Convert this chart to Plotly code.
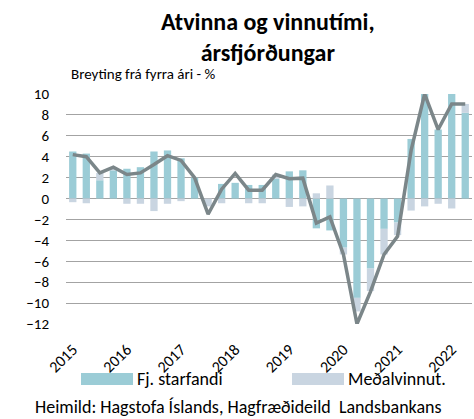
import plotly.graph_objects as go

years = ["2015", "2016", "2017", "2018", "2019", "2020", "2021", "2022"]
quarters = list(range(30))  # 2015Q1 .. 2022Q2

fj_starfandi = [4.5, 4.3, 1.75, 2.7, 2.85, 3.0, 4.5, 4.6, 3.85, 2.0,
                0.0, 1.4, 1.5, 1.3, 1.3, 1.9, 2.6, 2.7, -2.85, -3.05,
                -4.7, -9.5, -6.7, -2.9, -2.3, 5.7, 10.0, 6.6, 10.0, 8.2]
medalvinnut = [-0.35, -0.45, 0.7, 0.3, -0.5, -0.5, -1.2, -0.5, -0.25, 0.0,
               -0.75, -0.45, 0.0, -0.45, -0.45, 0.4, -0.8, -0.75, 0.5, 1.25,
               -0.65, -1.3, -2.15, -2.45, -1.2, -1.15, -0.75, -0.5, -0.95, 0.85]
heild = [4.2, 4.0, 2.45, 3.0, 2.3, 2.45, 3.25, 4.1, 3.65, 2.0,
         -1.5, 0.9, 2.4, 0.8, 0.8, 2.3, 1.9, 1.95, -2.35, -1.75,
         -5.35, -12.0, -8.9, -5.35, -3.6, 4.6, 10.0, 6.6, 9.05, 9.05]

yticks = list(range(-12, 11, 2))

TEAL = "#9BCCD6"
GREY = "#C9D5E1"
LINE = "#7B8689"
FONT = "Carlito, Lato, sans-serif"

L, R, T, B = 66, 2, 94, 95
W, H = 474, 419
PW, PH = W - L - R, H - T - B


def px_x(px):
    return (px - L) / PW


def px_y(py):
    return (H - B - py) / PH


fig = go.Figure()
fig.add_trace(go.Bar(x=quarters, y=fj_starfandi, marker_color=TEAL,
                     marker_line_width=0, name="Fj. starfandi"))
fig.add_trace(go.Bar(x=quarters, y=medalvinnut, marker_color=GREY,
                     marker_line_width=0, name="Meðalvinnut."))
fig.add_trace(go.Scatter(x=quarters, y=heild, mode="lines",
                         line=dict(color=LINE, width=3.5), name="Heild"))

fig.update_layout(
    width=W, height=H,
    margin=dict(l=L, r=R, t=T, b=B, autoexpand=False),
    paper_bgcolor="white", plot_bgcolor="white",
    barmode="relative", bargap=0.46,
    showlegend=False,
    font=dict(family=FONT, size=15, color="black"),
)
fig.update_xaxes(range=[-0.5, 29.5], tickmode="array",
                 tickvals=[i * 4 for i in range(len(years))], ticktext=years,
                 tickangle=-45, showgrid=False, zeroline=False, showline=False,
                 ticks="", ticklabelstandoff=12,
                 tickfont=dict(size=16), automargin=False)
fig.update_yaxes(range=[-12, 10], tickmode="array", tickvals=yticks,
                 showgrid=True, gridcolor="#A3A3A3", gridwidth=1.3,
                 zeroline=True, zerolinecolor="#A3A3A3", zerolinewidth=1.3,
                 showline=False, ticks="", ticklabelstandoff=16,
                 tickfont=dict(size=15), automargin=False)

# title
fig.add_annotation(text="<b>Atvinna og vinnutími,<br>ársfjórðungar</b>",
                   xref="paper", yref="paper",
                   x=px_x(268), y=px_y(37), xanchor="center", yanchor="middle",
                   showarrow=False, font=dict(size=24))

# y-axis caption
fig.add_annotation(text="Breyting frá fyrra ári - %", xref="paper", yref="paper",
                   x=px_x(69), y=px_y(74), xanchor="left", yanchor="middle",
                   showarrow=False, font=dict(size=15))

# legend (drawn manually to mimic the wide swatches)
fig.add_shape(type="rect", xref="paper", yref="paper",
              x0=px_x(81), x1=px_x(133), y0=px_y(385), y1=px_y(373),
              fillcolor=TEAL, line_width=0)
fig.add_annotation(text="Fj. starfandi", xref="paper", yref="paper",
                   x=px_x(135), y=px_y(379), xanchor="left", yanchor="middle",
                   showarrow=False, font=dict(size=18))
fig.add_shape(type="rect", xref="paper", yref="paper",
              x0=px_x(292), x1=px_x(344), y0=px_y(385), y1=px_y(373),
              fillcolor=GREY, line_width=0)
fig.add_annotation(text="Meðalvinnut.", xref="paper", yref="paper",
                   x=px_x(346), y=px_y(379), xanchor="left", yanchor="middle",
                   showarrow=False, font=dict(size=18))

# source
fig.add_annotation(text="Heimild: Hagstofa Íslands, Hagfræðideild  Landsbankans",
                   xref="paper", yref="paper", x=px_x(238), y=px_y(407),
                   xanchor="center", yanchor="middle", showarrow=False,
                   font=dict(size=18))

fig.write_html("out.html",
               config={"displayModeBar": False},
               post_script="document.body.style.margin='0px';"
                           "document.body.style.overflow='hidden';")
